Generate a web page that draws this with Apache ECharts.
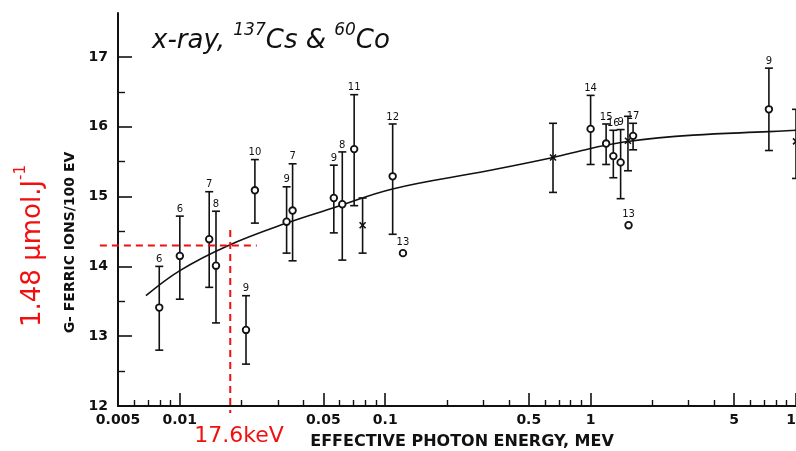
<!DOCTYPE html>
<html>
<head>
<meta charset="UTF-8">
<title>G ferric ions vs effective photon energy</title>
<script src="https://cdn.jsdelivr.net/npm/echarts@6/dist/echarts.min.js"></script>
<style>
  html, body { margin: 0; padding: 0; background: #fff; }
  #chart { width: 796px; height: 451px; }
</style>
</head>
<body>
<div id="chart"></div>
<script>
// measured points: energy (MeV), G value, error bar ends, number printed above each bar
const energies = [0.00794, 0.0100, 0.0139, 0.0150, 0.0210, 0.0232, 0.0331, 0.0354, 0.0562, 0.0618, 0.0706, 0.0776,
                  0.1087, 0.122, 0.656, 1.00, 1.19, 1.29, 1.40, 1.52, 1.61, 1.53, 7.38, 10.0];
const gValues  = [13.41, 14.15, 14.39, 14.01, 13.09, 15.09, 14.64, 14.80, 14.98, 14.89, 15.68, 14.59,
                  15.29, 14.19, 15.56, 15.97, 15.76, 15.58, 15.49, 15.80, 15.87, 14.59, 16.25, 15.79];
const errHigh  = [14.00, 14.72, 15.07, 14.79, 13.58, 15.53, 15.14, 15.47, 15.45, 15.64, 16.46, 14.98,
                  16.04, null, 16.05, 16.45, 16.04, 15.95, 15.96, 16.15, 16.05, null, 16.84, 16.25];
const errLow   = [12.80, 13.53, 13.70, 13.19, 12.60, 14.62, 14.19, 14.08, 14.48, 14.09, 14.87, 14.19,
                  14.46, null, 15.06, 15.46, 15.46, 15.27, 14.97, 15.37, 15.67, null, 15.66, 15.26];
const pointTags = ['6', '6', '7', '8', '9', '10', '9', '7', '9', '8', '11', '',
                   '12', '13', '', '14', '15', '16', '9', '', '17', '13', '9', ''];
const markers   = ['o', 'o', 'o', 'o', 'o', 'o', 'o', 'o', 'o', 'o', 'o', 'x',
                   'o', 'o', 'x', 'o', 'o', 'o', 'o', 'x', 'o', 'o', 'o', 'x'];

// fitted curve
const curveE = [0.00684, 0.0100, 0.01694, 0.0331, 0.0562, 0.1086, 0.316, 0.656, 1.00, 1.51, 3.16, 7.38, 10.0];
const curveG = [13.58, 13.94, 14.29, 14.62, 14.84, 15.11, 15.37, 15.56, 15.69, 15.79, 15.88, 15.93, 15.95];

// axis ticks
const xLabelValues = [0.005, 0.01, 0.05, 0.1, 0.5, 1, 5, 10];
const xMajorTicks  = [0.01, 0.05, 0.1, 0.5, 1, 5, 10];
const xMinorTicks  = [0.006, 0.007, 0.008, 0.009, 0.02, 0.03, 0.04, 0.06, 0.07, 0.08, 0.09,
                      0.2, 0.3, 0.4, 0.6, 0.7, 0.8, 0.9, 2, 3, 4, 6, 7, 8, 9];
const yMajorTicks  = [12, 13, 14, 15, 16, 17];
const yMinorTicks  = [12.5, 13.5, 14.5, 15.5, 16.5];

// 17.6 keV reference
const refEnergy = 0.0176;
const refG = 14.3;

const lg = Math.log10;
const xMin = lg(0.005), xMax = lg(10);

var chart = echarts.init(document.getElementById('chart'));

const axisFont = { fontFamily: 'DejaVu Sans', fontWeight: 'bold', fontSize: 14, color: '#111' };

function errorBarItem(params, api) {
  const i = params.dataIndex;
  const p = api.coord([api.value(0), api.value(1)]);
  const kids = [];
  const line = { stroke: '#111', lineWidth: 1.6 };
  let labelY = p[1] - 6;
  if (errHigh[i] != null) {
    const top = api.coord([api.value(0), errHigh[i]]);
    const bot = api.coord([api.value(0), errLow[i]]);
    kids.push({ type: 'line', shape: { x1: p[0], y1: top[1], x2: p[0], y2: bot[1] }, style: line });
    kids.push({ type: 'line', shape: { x1: p[0] - 4, y1: top[1], x2: p[0] + 4, y2: top[1] }, style: line });
    kids.push({ type: 'line', shape: { x1: p[0] - 4, y1: bot[1], x2: p[0] + 4, y2: bot[1] }, style: line });
    labelY = top[1] - 2;
  }
  if (markers[i] === 'o') {
    kids.push({ type: 'circle', shape: { cx: p[0], cy: p[1], r: 3.3 },
      style: { fill: '#fff', stroke: '#111', lineWidth: 1.8 } });
  } else {
    kids.push({ type: 'line', shape: { x1: p[0] - 3, y1: p[1] - 3, x2: p[0] + 3, y2: p[1] + 3 }, style: line });
    kids.push({ type: 'line', shape: { x1: p[0] - 3, y1: p[1] + 3, x2: p[0] + 3, y2: p[1] - 3 }, style: line });
  }
  if (pointTags[i]) {
    kids.push({ type: 'text', x: p[0], y: labelY,
      style: { text: pointTags[i], fontFamily: 'DejaVu Sans', fontSize: 10, fill: '#111',
               align: 'center', verticalAlign: 'bottom' } });
  }
  return { type: 'group', children: kids };
}

function refLines(params, api) {
  const dash = { stroke: '#f01010', lineWidth: 2, lineDash: [7, 5] };
  const h1 = api.coord([lg(0.00408), refG]);
  const h2 = api.coord([lg(0.0237), refG]);
  const v1 = api.coord([lg(refEnergy), 14.52]);
  const v2 = api.coord([lg(refEnergy), 11.9]);
  return { type: 'group', children: [
    { type: 'line', shape: { x1: h1[0], y1: h1[1], x2: h2[0], y2: h2[1] }, style: dash },
    { type: 'line', shape: { x1: v1[0], y1: v1[1], x2: v2[0], y2: v2[1] }, style: dash }
  ] };
}

chart.setOption({
  animation: false,
  title: {
    left: 152, top: 22, padding: 0,
    text: '{m|x-ray, }{s|137}{m|Cs & }{s|60}{m|Co}',
    textStyle: {
      fontWeight: 'normal',
      rich: {
        m: { fontFamily: 'DejaVu Sans', fontStyle: 'italic', fontWeight: 'normal', fontSize: 26, color: '#111', verticalAlign: 'bottom', lineHeight: 32 },
        s: { fontFamily: 'DejaVu Sans', fontStyle: 'italic', fontWeight: 'normal', fontSize: 17, color: '#111', verticalAlign: 'top', lineHeight: 28 }
      }
    }
  },
  grid: { left: 118, right: 0, top: 13, bottom: 45, containLabel: false, outerBoundsMode: 'none' },
  xAxis: [{
    type: 'value', min: xMin, max: xMax,
    axisLine: { onZero: false, lineStyle: { color: '#111', width: 2 } },
    axisTick: { inside: true, length: 13, customValues: xMajorTicks.map(lg), lineStyle: { color: '#111', width: 1.6 } },
    axisLabel: { customValues: xLabelValues.map(lg), margin: 7, ...axisFont,
      formatter: v => String(+Math.pow(10, v).toPrecision(2)) },
    splitLine: { show: false },
    name: 'EFFECTIVE PHOTON ENERGY, MEV', nameLocation: 'middle', nameGap: 28,
    nameTextStyle: { fontFamily: 'DejaVu Sans', fontWeight: 'bold', fontSize: 16, color: '#111', padding: [0, 0, 0, 10] }
  }, {
    type: 'value', min: xMin, max: xMax, position: 'bottom',
    axisLine: { show: false, onZero: false },
    axisTick: { inside: true, length: 6, customValues: xMinorTicks.map(lg), lineStyle: { color: '#111', width: 1.4 } },
    axisLabel: { show: false },
    splitLine: { show: false }
  }],
  yAxis: [{
    type: 'value', min: 12, max: 17.63, position: 'left',
    axisLine: { show: true, onZero: false, lineStyle: { color: '#111', width: 2 } },
    axisTick: { show: true, inside: true, length: 14, customValues: yMajorTicks, lineStyle: { color: '#111', width: 1.6 } },
    axisLabel: { customValues: yMajorTicks, margin: 10, ...axisFont },
    splitLine: { show: false },
    name: 'G- FERRIC IONS/100 EV', nameLocation: 'middle', nameGap: 40,
    nameTextStyle: { fontFamily: 'DejaVu Sans', fontWeight: 'bold', fontSize: 14, color: '#111', padding: [0, 66, 0, 0] }
  }, {
    type: 'value', min: 12, max: 17.63, position: 'left',
    axisLine: { show: false, onZero: false },
    axisTick: { show: true, inside: true, length: 7, customValues: yMinorTicks, lineStyle: { color: '#111', width: 1.4 } },
    axisLabel: { show: false },
    splitLine: { show: false }
  }],
  graphic: [{
    type: 'text', x: 30, y: 246, rotation: Math.PI / 2,
    style: {
      text: '{a|1.48 µmol.J}{b|-1}', align: 'center', verticalAlign: 'middle',
      rich: {
        a: { fontFamily: 'DejaVu Sans', fontSize: 26, fill: '#f01010', verticalAlign: 'bottom', lineHeight: 32 },
        b: { fontFamily: 'DejaVu Sans', fontSize: 15, fill: '#f01010', verticalAlign: 'top', lineHeight: 32 }
      }
    }
  }, {
    type: 'text', x: 239, y: 436,
    style: { text: '17.6keV', fontFamily: 'DejaVu Sans', fontSize: 22, fill: '#f01010',
             align: 'center', verticalAlign: 'middle' }
  }],
  series: [{
    type: 'line', xAxisIndex: 0, yAxisIndex: 0,
    data: curveE.map((e, i) => [lg(e), curveG[i]]),
    smooth: 0.4, showSymbol: false, symbol: 'none',
    lineStyle: { color: '#111', width: 1.6 }, z: 2
  }, {
    type: 'custom', xAxisIndex: 0, yAxisIndex: 0,
    data: energies.map((e, i) => [lg(e), gValues[i]]),
    renderItem: errorBarItem, clip: false, z: 3
  }, {
    type: 'custom', xAxisIndex: 0, yAxisIndex: 0,
    data: [[lg(refEnergy), refG]],
    renderItem: refLines, clip: false, z: 4
  }]
});
</script>
</body>
</html>
